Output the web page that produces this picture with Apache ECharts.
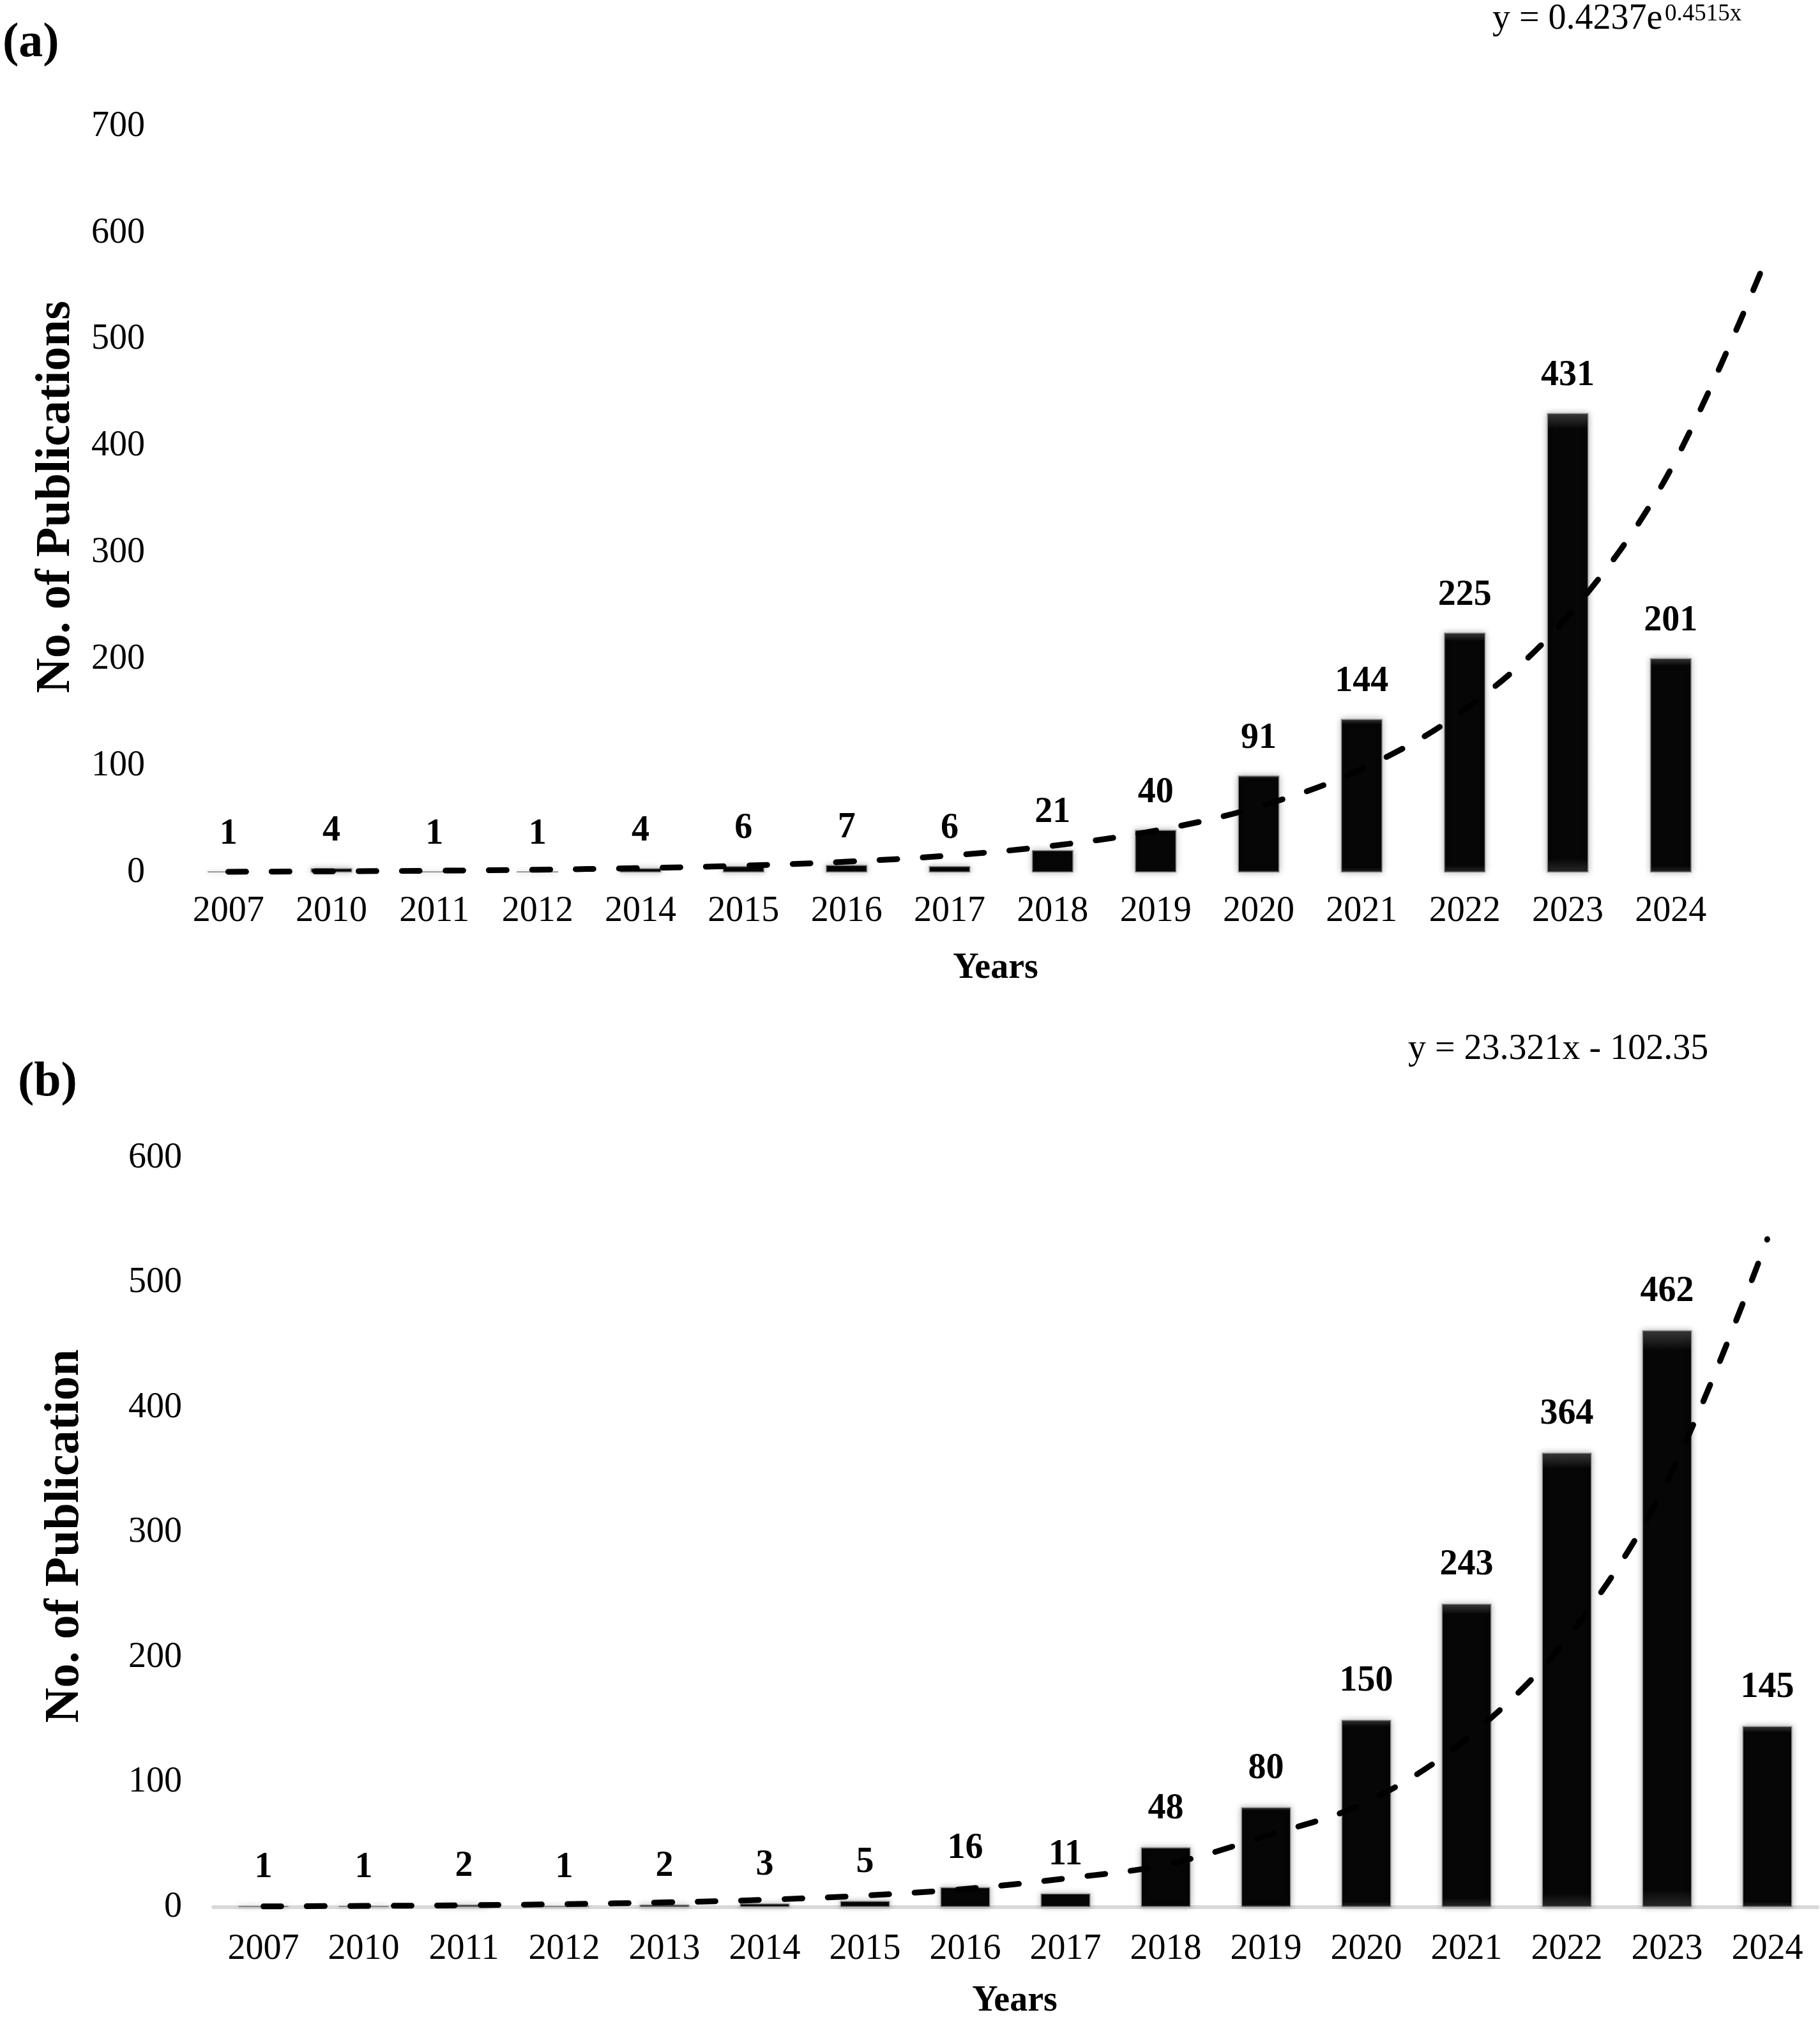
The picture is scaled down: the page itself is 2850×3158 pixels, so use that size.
<!DOCTYPE html>
<html>
<head>
<meta charset="utf-8">
<script src="https://cdn.jsdelivr.net/npm/echarts@6/dist/echarts.min.js"></script>
<style>
html,body{margin:0;padding:0;background:#fff;}
#chart{width:2850px;height:3158px;}
</style>
</head>
<body>
<div id="chart"></div>
<script>
// ---- Data ----
const yearsA = ['2007','2010','2011','2012','2014','2015','2016','2017','2018','2019','2020','2021','2022','2023','2024'];
const valuesA = [1,4,1,1,4,6,7,6,21,40,91,144,225,431,201];
// trend (a) at positions 1..16 (16 = one step past 2024)
const trendA = [0.67,1.05,1.64,2.58,4.05,6.36,9.99,15.7,24.7,38.7,60.8,95.5,150.0,235.6,370.1,581.3];

const yearsB = ['2007','2010','2011','2012','2013','2014','2015','2016','2017','2018','2019','2020','2021','2022','2023','2024'];
const valuesB = [1,1,2,1,2,3,5,16,11,48,80,150,243,364,462,145];
// trend (b) at each category
const trendB = [0.6,1.0,1.5,2.4,3.8,5.9,9.3,14.6,23,34,57,84,135,215,341,535];

const yTicksA = {min:0, max:700, interval:100};
const yTicksB = {min:0, max:600, interval:100};

const FONT = '"Liberation Serif","Times New Roman",serif';

const chart = echarts.init(document.getElementById('chart'), null, {renderer:'canvas'});

const barStyle = {
  color: {
    type:'linear', x:0, y:0, x2:0, y2:1,
    colorStops:[
      {offset:0, color:'#3a3a3a'},
      {offset:0.035, color:'#060606'},
      {offset:0.97, color:'#060606'},
      {offset:1, color:'#2a2a2a'}
    ]
  },
  borderColor:'#8a8a8a',
  borderWidth:1.5,
  shadowBlur:10,
  shadowColor:'rgba(0,0,0,0.28)'
};

const labelStyle = {
  show:true, position:'top', distance:30,
  fontFamily:FONT, fontWeight:'bold', fontSize:56, color:'#000'
};

const trendLine = {
  color:'#000', width:9, type:[28,40], cap:'round', join:'round'
};

const bandA = 2420 / yearsA.length;

const option = {
  backgroundColor:'#ffffff',
  animation:false,
  grid:[
    {left:277, width:2420, top:198, height:1168, containLabel:false},
    {left:334, width:2512, top:1813, height:1173, containLabel:false},
    // same band scale as grid 0, one band wider, used for the forward trend of (a)
    {left:277, width:bandA * (yearsA.length + 1), top:198, height:1168, containLabel:false}
  ],
  xAxis:[
    {
      type:'category', gridIndex:0, data:yearsA,
      axisLine:{show:false}, axisTick:{show:false},
      axisLabel:{fontFamily:FONT, fontSize:56, color:'#000', margin:33, interval:0}
    },
    {
      type:'category', gridIndex:1, data:yearsB,
      axisLine:{show:true, lineStyle:{color:'#d9d9d9', width:6}}, axisTick:{show:false},
      axisLabel:{fontFamily:FONT, fontSize:56, color:'#000', margin:38, interval:0}
    },
    {
      type:'value', gridIndex:2, min:0.5, max:yearsA.length + 1.5, show:false
    }
  ],
  yAxis:[
    {
      type:'value', gridIndex:0, min:yTicksA.min, max:yTicksA.max, interval:yTicksA.interval,
      splitLine:{show:false}, axisLine:{show:false}, axisTick:{show:false},
      axisLabel:{fontFamily:FONT, fontSize:56, color:'#000', margin:50}
    },
    {
      type:'value', gridIndex:1, min:yTicksB.min, max:yTicksB.max, interval:yTicksB.interval,
      splitLine:{show:false}, axisLine:{show:false}, axisTick:{show:false},
      axisLabel:{fontFamily:FONT, fontSize:56, color:'#000', margin:49}
    },
    {
      type:'value', gridIndex:2, min:yTicksA.min, max:yTicksA.max, show:false
    }
  ],
  series:[
    {
      type:'bar', xAxisIndex:0, yAxisIndex:0, data:valuesA, barWidth:65,
      itemStyle:barStyle, label:labelStyle, z:2
    },
    {
      type:'line', xAxisIndex:2, yAxisIndex:2,
      data:trendA.map((v,i)=>[i+1, v]),
      smooth:0.35, symbol:'none', clip:false, lineStyle:trendLine, z:3
    },
    {
      type:'bar', xAxisIndex:1, yAxisIndex:1, data:valuesB, barWidth:78,
      itemStyle:barStyle, label:Object.assign({}, labelStyle, {distance:32}), z:2
    },
    {
      type:'line', xAxisIndex:1, yAxisIndex:1, data:trendB,
      smooth:0.35, symbol:'none', clip:false, lineStyle:trendLine, z:3
    }
  ],
  graphic:[
    {type:'text', x:4, y:68, style:{text:'(a)', font:'bold 76px '+FONT, fill:'#000', textAlign:'left', textVerticalAlign:'middle'}},
    {type:'text', x:28, y:1695, style:{text:'(b)', font:'bold 76px '+FONT, fill:'#000', textAlign:'left', textVerticalAlign:'middle'}},
    {type:'text', x:2337, y:30, style:{text:'y = 0.4237e', font:'56px '+FONT, fill:'#000', textAlign:'left', textVerticalAlign:'middle'}},
    {type:'text', x:2607, y:22, style:{text:'0.4515x', font:'37px '+FONT, fill:'#000', textAlign:'left', textVerticalAlign:'middle'}},
    {type:'text', x:2205, y:1643, style:{text:'y = 23.321x - 102.35', font:'56px '+FONT, fill:'#000', textAlign:'left', textVerticalAlign:'middle'}},
    {type:'text', x:1559, y:1517, style:{text:'Years', font:'bold 56px '+FONT, fill:'#000', textAlign:'center', textVerticalAlign:'middle'}},
    {type:'text', x:1589, y:3134, style:{text:'Years', font:'bold 56px '+FONT, fill:'#000', textAlign:'center', textVerticalAlign:'middle'}},
    {type:'text', x:88, y:778, rotation:Math.PI/2, style:{text:'No. of Publications', font:'bold 76px '+FONT, fill:'#000', textAlign:'center', textVerticalAlign:'middle'}},
    {type:'text', x:102, y:2405, rotation:Math.PI/2, style:{text:'No. of Publication', font:'bold 76px '+FONT, fill:'#000', textAlign:'center', textVerticalAlign:'middle'}}
  ]
};

chart.setOption(option);
</script>
</body>
</html>
